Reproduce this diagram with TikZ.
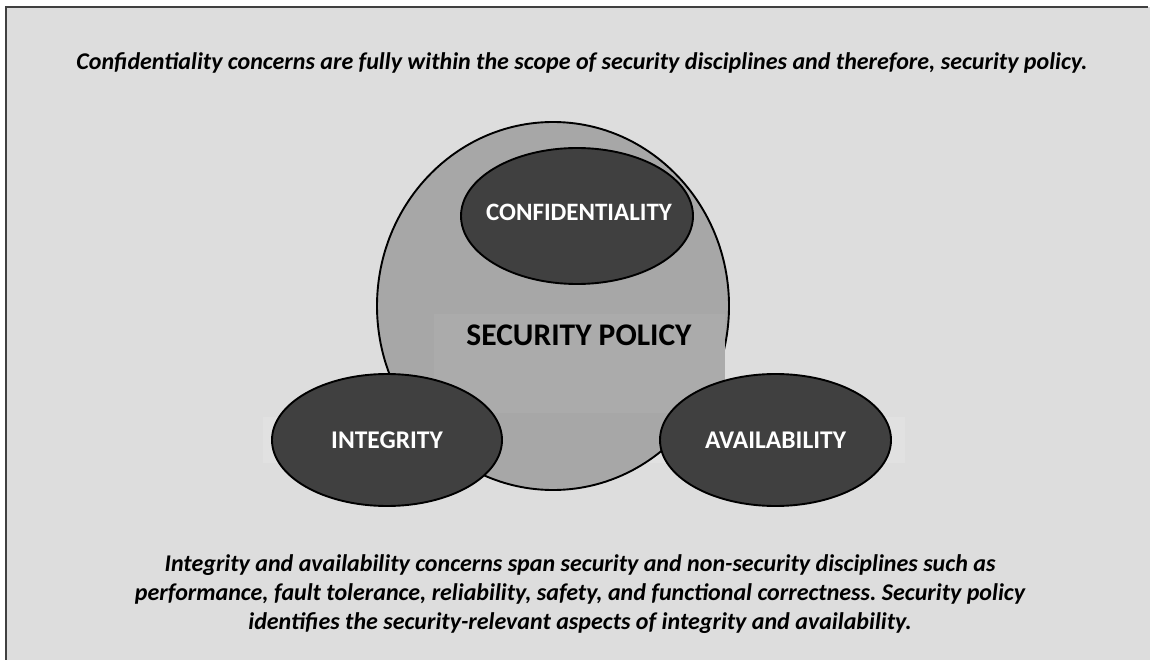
\documentclass[tikz,border=0pt]{standalone}
\usepackage{fontspec}
\setmainfont{Carlito}
\frenchspacing
\usetikzlibrary{shapes.geometric}
\definecolor{bg}{HTML}{DDDDDD}
\definecolor{band}{HTML}{E1E1E1}
\definecolor{circ}{HTML}{A7A7A7}
\definecolor{circlite}{HTML}{ABABAB}
\definecolor{dark}{HTML}{404040}
\definecolor{frame}{HTML}{404040}
\tikzset{
  concern/.style={ellipse, draw=black, line width=1.9pt, fill=dark, text=white,
    font=\fontsize{25.5}{28}\selectfont\bfseries, inner sep=0pt},
  note/.style={font=\fontsize{24}{29}\selectfont\bfseries\itshape, align=center, inner sep=0pt},
}
\begin{document}
\begin{tikzpicture}[x=1pt,y=-1pt]
\useasboundingbox (0,0) rectangle (1150,660);
\fill[white] (0,0) rectangle (1150,660);
\fill[bg] (6,7) rectangle (1150,660);
\draw[frame, line width=1.5pt] (1148,7) -- (6,7) -- (6,660);
% faint text-box band behind the lower ellipses
\fill[band] (263,417) rectangle (905,463);
% security policy circle
\node[ellipse, draw=black, line width=1.9pt, fill=circ, minimum width=352, minimum height=368, inner sep=0pt] (policy) at (553,306) {};
\fill[circlite] (434,314) rectangle (725,413);
\node[font=\fontsize{31.5}{34}\selectfont\bfseries] (policylabel) at (579,335) {SECURITY POLICY};
% concerns
\node[concern, minimum width=232, minimum height=136] (conf) at (577,216) {};
\node[text=white, font=\fontsize{25}{28}\selectfont\bfseries] (conflabel) at (579,212) {CONFIDENTIALITY};
\node[concern, minimum width=230, minimum height=132] (integ) at (387,440) {INTEGRITY};
\node[concern, minimum width=231, minimum height=132] (avail) at (775.5,440) {AVAILABILITY};
% notes
\node[note] (topnote) at (582,63) {Confidentiality concerns are fully within the scope of security disciplines and therefore, security policy.};
\node[note] (bottomnote) at (580,594) {Integrity and availability concerns span security and non-security disciplines such as\\
performance, fault tolerance, reliability, safety, and functional correctness. Security policy\\
identifies the security-relevant aspects of integrity and availability.};
\end{tikzpicture}
\end{document}
